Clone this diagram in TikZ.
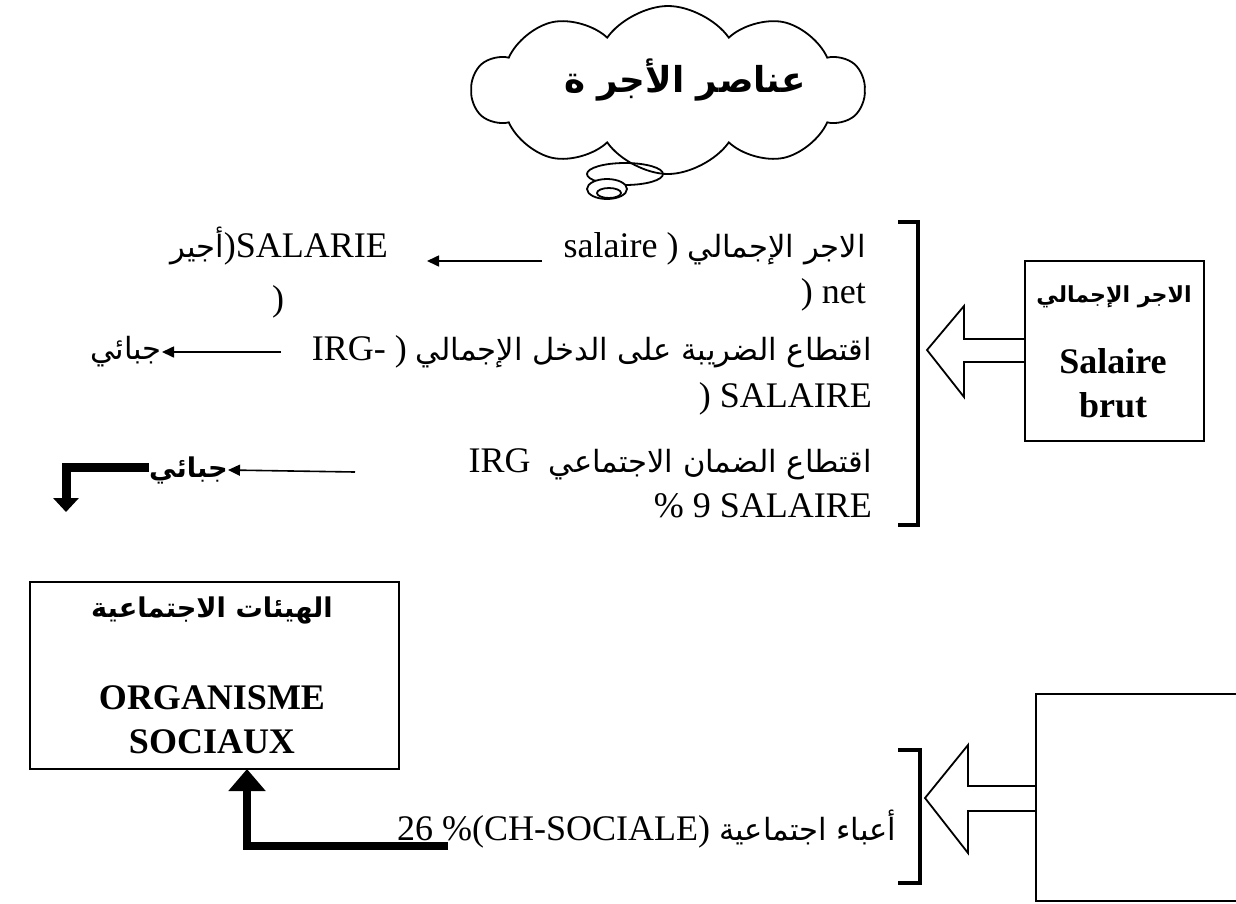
\documentclass[tikz,border=0pt]{standalone}
\usepackage{fontspec}
\setmainfont{Liberation Serif}
\newfontfamily\ar[Script=Arabic,Scale=0.85]{DejaVu Sans}
\TeXXeTstate=1
\usetikzlibrary{arrows.meta,shapes.symbols}
\newcommand{\AR}[1]{{\ar\beginR #1\endR}}
\begin{document}
\begin{tikzpicture}[x=1pt,y=-1pt,
  txt/.style={inner sep=0pt,font=\fontsize{36}{44}\selectfont},
  boldtxt/.style={inner sep=0pt,font=\fontsize{36}{44}\selectfont\bfseries},
  thin arrow/.style={line width=1.6pt,-{Triangle[length=12pt,width=11pt]}},
  brack/.style={line width=4pt},
  hollow/.style={line width=1.8pt,line join=miter},
  box/.style={draw,line width=1.8pt}]
\useasboundingbox (0,0) rectangle (1236,903);
% cloud
\node[cloud,cloud puffs=10,cloud puff arc=110,draw,line width=1.8pt,aspect=2.3,
  minimum width=392pt,minimum height=168pt] (cloud) at (668,90) {};
\node[boldtxt,font=\fontsize{42}{44}\selectfont\bfseries] (title) at (685,80) {\AR{عناصر الأجر ة}};
\draw[line width=1.8pt] (625,174) ellipse [x radius=38,y radius=11];
\draw[line width=1.8pt,fill=white] (607,189) ellipse [x radius=20,y radius=10];
\draw[line width=1.8pt] (609,193) ellipse [x radius=12,y radius=5];
% top right box
\draw[box] (1025,261) rectangle (1204,441);
\node[boldtxt,font=\fontsize{26}{30}\selectfont\bfseries] (brar) at (1114,297) {\AR{الاجر الإجمالي}};
\node[boldtxt,align=center] (brut) at (1113,383) {Salaire\\brut};
% hollow arrow top
\draw[hollow] (1025,339) -- (964,339) -- (964,306) -- (927,350) -- (964,397) -- (964,362) -- (1025,362);
% bracket top
\draw[brack] (898,222) -- (918,222) -- (918,525) -- (898,525);
% right text lines
\node[txt,anchor=base east] (l1) at (866,257) {salaire ) \AR{الاجر الإجمالي}};
\node[txt,anchor=base east] (l2) at (866,303) {) net};
\node[txt,anchor=base east] (l3) at (872,360) {IRG- ) \AR{اقتطاع الضريبة على الدخل الإجمالي}};
\node[txt,anchor=base east] (l4) at (872,407) {) SALAIRE};
\node[txt,anchor=base east] (l5) at (872,472) {IRG\ \ \AR{اقتطاع الضمان الاجتماعي}};
\node[txt,anchor=base east] (l6) at (872,517) {\% 9 SALAIRE};
% left text
\node[txt,anchor=base east] (sal) at (388,257) {\AR{أجير})SALARIE};
\node[txt,anchor=base] (par) at (278,310) {)};
\coordinate (a1s) at (542,261); \coordinate (a1e) at (427,261);
\draw[thin arrow] (a1s) -- (a1e);
\node[txt,anchor=east] (j1) at (162,352) {\AR{جبائي}};
\coordinate (a2s) at (281,352);
\draw[thin arrow] (a2s) -- (j1.east);
\node[boldtxt,anchor=east,font=\fontsize{32}{40}\selectfont\bfseries] (j2) at (228,470) {\AR{جبائي}};
\coordinate (a3s) at (355,472);
\draw[thin arrow] (a3s) -- (j2.east);
\coordinate (b0) at (j2.west |- 0,467);
\coordinate (b1) at (66,467);
\coordinate (b2) at (66,512);
\draw[line width=9pt,line join=miter,-{Triangle[length=14pt,width=25pt]}] (b0) -- (b1) -- (b2);
% organisme box
\draw[box] (30,582) rectangle (399,769);
\node[boldtxt,font=\fontsize{32}{40}\selectfont\bfseries] (orgar) at (212,610) {\AR{الهيئات الاجتماعية}};
\node[boldtxt,align=center] (org) at (212,720) {ORGANISME\\SOCIAUX};
\coordinate (orgb) at (247,769);
% bottom
\node[txt,anchor=base west] (ch) at (397,840) {26 \%(CH-SOCIALE) \AR{أعباء اجتماعية}};
\coordinate (c1) at (448,846);
\draw[line width=8pt,line join=miter,-{Triangle[length=22pt,width=36pt]}] (c1) -- (247,846) -- (orgb);
\draw[brack] (898,750) -- (920,750) -- (920,883) -- (898,883);
\draw[hollow] (1036,786) -- (968,786) -- (968,745) -- (925,798) -- (968,853) -- (968,811) -- (1036,811);
\draw[box] (1036,694) rectangle (1245,901);
\end{tikzpicture}
\end{document}
